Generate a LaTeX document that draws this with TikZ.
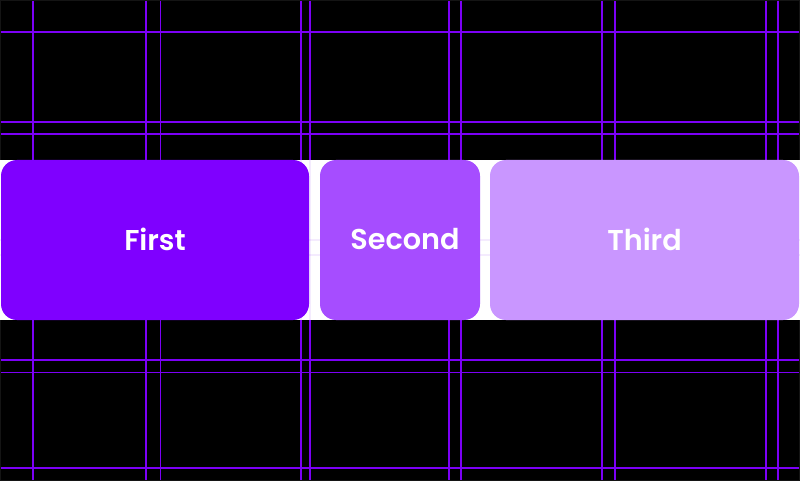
\documentclass[tikz,border=0pt]{standalone}
\usepackage{fontspec}
\setmainfont{Poppins}[BoldFont={Poppins SemiBold}]
\definecolor{gridc}{HTML}{7C00F6}
\definecolor{boxA}{HTML}{7F00FF}
\definecolor{boxB}{HTML}{A64DFF}
\definecolor{boxC}{HTML}{C996FF}
\definecolor{framec}{HTML}{141414}
\tikzset{
  gridline/.style={draw=gridc, line width=1.2pt},
  faintline/.style={draw=gridc, line width=1.2pt, opacity=0.08},
  card/.style={draw=none, rounded corners=12pt, inner sep=0pt},
  cardtext/.style={text=white, font=\fontsize{21.5}{26}\selectfont\bfseries}
}
\begin{document}
\begin{tikzpicture}[x=0.75pt,y=-0.75pt]
\useasboundingbox (0,0) rectangle (800,481);
\fill[black] (0,0) rectangle (800,481);
\draw[framec, line width=1pt] (0.5,0.5) rectangle (799.5,480.5);
% vertical grid lines
\foreach \x in {32.7,145.7,160.3,300.7,309.7,449,460.7,601.7,614.7,766,778}
  \draw[gridline] (\x,1) -- (\x,480);
% horizontal grid lines
\foreach \y in {32,122,134,360,372.3,467.7}
  \draw[gridline] (1,\y) -- (799,\y);
% white band
\fill[white] (0,160) rectangle (800,320);
% faint lines through the band
\foreach \x in {32.7,145.7,160.3,300.7,309.7,449,460.7,601.7,614.7,766,778}
  \draw[faintline] (\x,160) -- (\x,320);
\foreach \y in {240,255}
  \draw[faintline] (0,\y) -- (800,\y);
% cards
\fill[boxA, card] (1,160) rectangle (309,320);
\fill[boxB, card] (320,160) rectangle (480,320);
\fill[boxC, card] (490,160) rectangle (799,320);
\node[cardtext] (first) at (155,239) {First};
\node[cardtext] (second) at (405,239) {Second};
\node[cardtext] (third) at (644.5,239) {Third};
\end{tikzpicture}
\end{document}
